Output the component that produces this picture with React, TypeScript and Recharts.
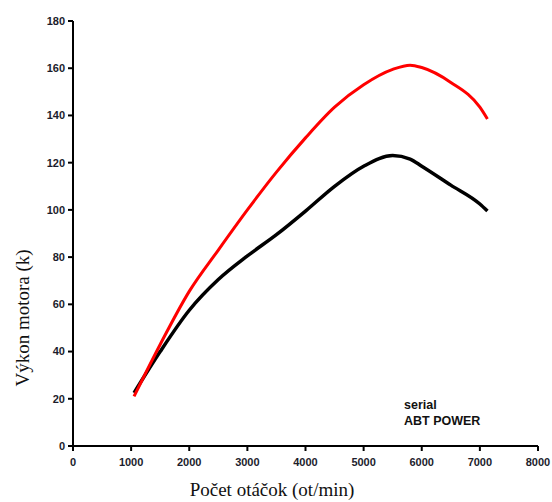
import React from "react";
import { LineChart, Line, XAxis, YAxis } from "recharts";

// otáčky (ot/min)
const rpm = [1050, 1500, 2000, 2500, 3000, 3500, 4000, 4500, 5000, 5500, 5800, 6000, 6500, 7000, 7130];
// ABT POWER (red)
const abtPower = [21, 43, 65.5, 83, 100, 116, 130.5, 143.5, 153, 159.5, 161.3, 160.3, 154, 143.5, 138.5];
// serial (black)
const serial = [22.5, 40, 57.5, 70.5, 80.5, 89.5, 99.5, 110, 118.5, 123, 121.5, 118.5, 110.5, 102.5, 99.5];

const xTicks = [0, 1000, 2000, 3000, 4000, 5000, 6000, 7000, 8000];
const yTicks = [0, 20, 40, 60, 80, 100, 120, 140, 160, 180];
const noteLines = ["serial", "ABT POWER"];

const data = rpm.map((r, i) => ({ rpm: r, abt: abtPower[i], serial: serial[i] }));

const tickStyle = {
  fontFamily: "'Liberation Sans', Arial, sans-serif",
  fontSize: 11,
  fontWeight: 700,
  fill: "#1c1c2c",
};

const serifText = {
  fontFamily: "'Liberation Serif', 'Times New Roman', serif",
  fontSize: 19,
  fill: "#111",
};

export default function App() {
  return (
    <div style={{ position: "absolute", left: 0, top: 0, width: 552, height: 502, background: "#fff" }}>
      <LineChart width={552} height={502} data={data} margin={{ top: 21, right: 14, left: 0, bottom: 0 }}>
        <XAxis
          dataKey="rpm"
          type="number"
          domain={[0, 8000]}
          ticks={xTicks}
          interval={0}
          height={56}
          tick={tickStyle}
          tickSize={5}
          tickMargin={7}
          axisLine={{ stroke: "#000", strokeWidth: 2 }}
          tickLine={{ stroke: "#000", strokeWidth: 2 }}
          label={{
            content: () => (
              <text x={272} y={496} textAnchor="middle" style={serifText}>
                Počet otáčok (ot/min)
              </text>
            ),
          }}
        />
        <YAxis
          type="number"
          domain={[0, 180]}
          ticks={yTicks}
          interval={0}
          width={73}
          tick={tickStyle}
          tickSize={5}
          tickMargin={3}
          axisLine={{ stroke: "#000", strokeWidth: 2 }}
          tickLine={{ stroke: "#000", strokeWidth: 2 }}
          label={{
            content: () => (
              <text x={29} y={318} textAnchor="middle" transform="rotate(-90 29 318)" style={serifText}>
                Výkon motora (k)
              </text>
            ),
          }}
        />
        <Line
          type="monotone"
          dataKey="serial"
          stroke="#000"
          strokeWidth={3.5}
          dot={false}
          isAnimationActive={false}
        />
        <Line
          type="monotone"
          dataKey="abt"
          stroke="#ff0000"
          strokeWidth={3}
          dot={false}
          isAnimationActive={false}
        />
      </LineChart>
      <div
        style={{
          position: "absolute",
          left: 404,
          top: 397,
          fontFamily: "'Liberation Sans', Arial, sans-serif",
          fontWeight: 700,
          fontSize: 12.5,
          lineHeight: "16px",
          color: "#111",
        }}
      >
        {noteLines.map((t) => (
          <div key={t}>{t}</div>
        ))}
      </div>
    </div>
  );
}
